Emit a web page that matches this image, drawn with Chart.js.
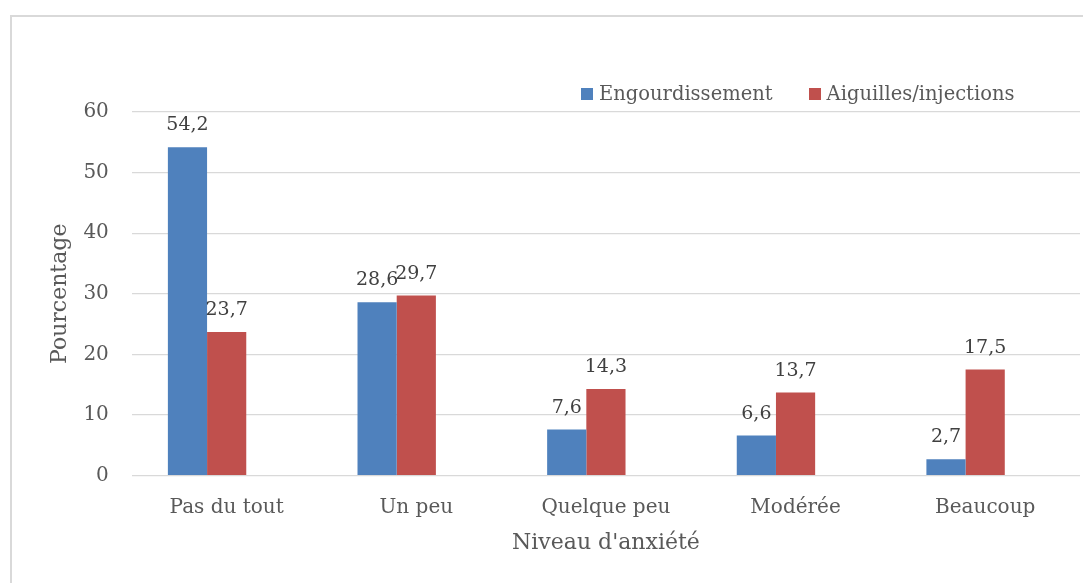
<!DOCTYPE html>
<html>
<head>
<meta charset="utf-8">
<script src="https://cdn.jsdelivr.net/npm/chart.js@4.4.0/dist/chart.umd.min.js"></script>
<style>
    html, body { margin: 0; padding: 0; background: #fff; }
    #wrap { position: relative; width: 1083px; height: 583px; overflow: hidden; }
    #frame { position: absolute; left: 10px; top: 15px; width: 1200px; height: 700px;
             border-left: 2px solid #d9d9d9; border-top: 2px solid #d9d9d9; }
    #chart { position: absolute; left: 0; top: 0; }
    #legend { position: absolute; left: 581px; top: 82px; display: flex; align-items: center;
              font-family: "DejaVu Serif", serif; font-size: 19.5px; color: #595959; }
    #legend .item { display: flex; align-items: center; margin-right: 36px; }
    #legend .box { width: 12px; height: 12px; margin-right: 6px; }
</style>
</head>
<body>
<div id="wrap">
    <div id="frame"></div>
    <canvas id="chart" width="1083" height="583"></canvas>
    <div id="legend"></div>
</div>
<script>
const categories = ['Pas du tout', 'Un peu', 'Quelque peu', 'Modérée', 'Beaucoup'];
const engourdissement = [54.2, 28.6, 7.6, 6.6, 2.7];
const aiguilles = [23.7, 29.7, 14.3, 13.7, 17.5];
const yTicks = [0, 10, 20, 30, 40, 50, 60];

const FONT = '"DejaVu Serif", serif';

// draws the value above each bar, with a comma as decimal separator
const valueLabels = {
    id: 'valueLabels',
    afterDatasetsDraw(chart) {
        const ctx = chart.ctx;
        ctx.save();
        ctx.font = '19px ' + FONT;
        ctx.fillStyle = '#404040';
        ctx.textAlign = 'center';
        ctx.textBaseline = 'alphabetic';
        chart.data.datasets.forEach((ds, i) => {
            if (!ds.label) return;
            chart.getDatasetMeta(i).data.forEach((bar, j) => {
                const v = ds.data[j];
                if (v == null) return;
                ctx.fillText(v.toFixed(1).replace('.', ','), bar.x, bar.y - 17);
            });
        });
        ctx.restore();
    }
};

const ctx = document.getElementById('chart').getContext('2d');
const chart = new Chart(ctx, {
    type: 'bar',
    data: {
        labels: categories,
        datasets: [
            { label: 'Engourdissement', data: engourdissement, backgroundColor: '#4f81bd' },
            { label: 'Aiguilles/injections', data: aiguilles, backgroundColor: '#c0504d' },
            // empty third series, keeps the bars off-centre like the original
            { label: '', data: categories.map(() => null), backgroundColor: 'transparent' }
        ]
    },
    options: {
        responsive: false,
        animation: false,
        barPercentage: 1,
        categoryPercentage: 0.62,
        layout: { padding: { top: 112, right: 3, bottom: 27, left: 47 } },
        plugins: {
            legend: { display: false },
            tooltip: { enabled: false }
        },
        scales: {
            x: {
                grid: { display: false, tickLength: 14 },
                border: { display: false },
                ticks: { color: '#595959', font: { family: FONT, size: 20 }, padding: 6 },
                title: {
                    display: true,
                    text: "Niveau d'anxiété",
                    color: '#595959',
                    font: { family: FONT, size: 22 },
                    padding: { top: 4, bottom: 0 }
                }
            },
            y: {
                min: 0,
                max: 60,
                afterBuildTicks: (axis) => { axis.ticks = yTicks.map(v => ({ value: v })); },
                grid: { color: '#d9d9d9', lineWidth: 1.3, tickLength: 13, tickColor: 'transparent' },
                border: { display: false },
                ticks: { color: '#595959', font: { family: FONT, size: 20 }, padding: 10 },
                title: {
                    display: true,
                    text: 'Pourcentage',
                    color: '#595959',
                    font: { family: FONT, size: 22 },
                    padding: { top: 0, bottom: 0 }
                }
            }
        }
    },
    plugins: [valueLabels]
});

// html legend built from the datasets
const legend = document.getElementById('legend');
chart.data.datasets.filter(ds => ds.label).forEach(ds => {
    const item = document.createElement('div');
    item.className = 'item';
    const box = document.createElement('span');
    box.className = 'box';
    box.style.background = ds.backgroundColor;
    const txt = document.createElement('span');
    txt.textContent = ds.label;
    item.appendChild(box);
    item.appendChild(txt);
    legend.appendChild(item);
});
</script>
</body>
</html>
